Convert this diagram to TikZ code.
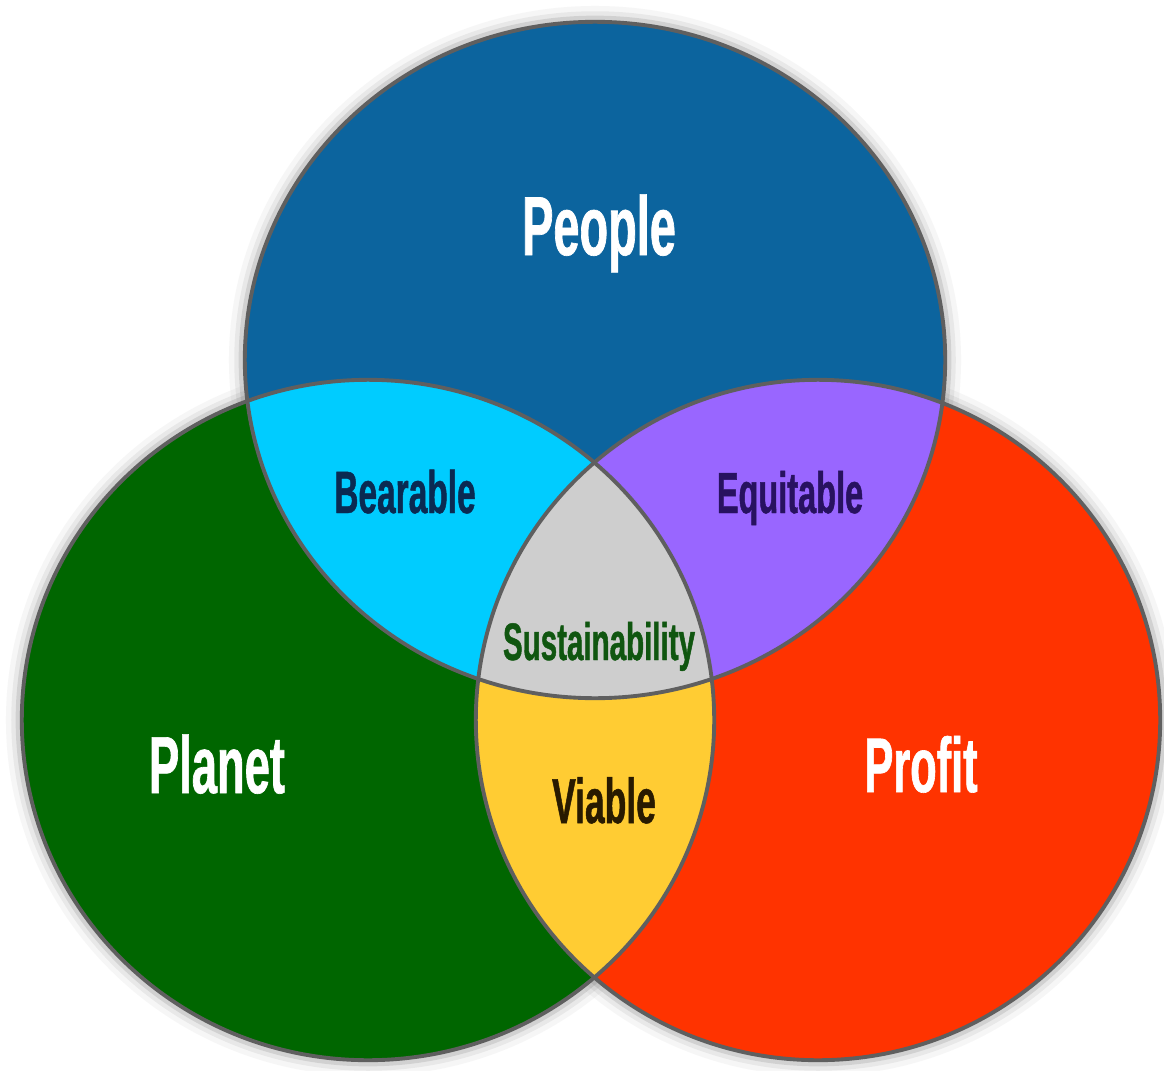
\documentclass[tikz,border=0pt]{standalone}
\usepackage{fontspec}
\newfontfamily\labelfont[FakeStretch=0.56,BoldFeatures={FakeBold=0.8}]{Liberation Sans}
\definecolor{peopleblue}{RGB}{12,100,158}
\definecolor{planetgreen}{RGB}{0,102,0}
\definecolor{profitred}{RGB}{255,51,0}
\definecolor{bearcyan}{RGB}{0,204,255}
\definecolor{equipurple}{RGB}{153,102,255}
\definecolor{viableyellow}{RGB}{255,204,51}
\definecolor{sustgray}{RGB}{206,206,206}
\definecolor{rimgray}{RGB}{95,95,95}
\definecolor{bearink}{RGB}{10,42,82}
\definecolor{equiink}{RGB}{40,18,96}
\definecolor{sustink}{RGB}{16,86,16}
\definecolor{viableink}{RGB}{40,26,0}
\tikzset{
  lbl/.style={anchor=base, inner sep=0pt, font=\labelfont\bfseries},
  rim/.style={draw=rimgray, line width=1.1pt},
  topshape/.style={x radius=3.50cm, y radius=3.38cm},
  leftshape/.style={x radius=3.46cm, y radius=3.40cm},
  rightshape/.style={x radius=3.42cm, y radius=3.40cm}
}
\begin{document}
\begin{tikzpicture}[x=0.01cm,y=-0.01cm]
\useasboundingbox (0,0) rectangle (1164,1070);
\fill[white] (0,0) rectangle (1164,1070);
\coordinate (cT) at (595,360);
\coordinate (cL) at (368,720);
\coordinate (cR) at (818,720);
% soft glow around the circles
\foreach \w/\o in {9pt/0.05,6pt/0.09,3.5pt/0.16}{
  \draw[rimgray, line width=\w, opacity=\o] (cT) ellipse [topshape];
  \draw[rimgray, line width=\w, opacity=\o] (cL) ellipse [leftshape];
  \draw[rimgray, line width=\w, opacity=\o] (cR) ellipse [rightshape];
}
% main circles
\fill[peopleblue] (cT) ellipse [topshape];
\fill[planetgreen] (cL) ellipse [leftshape];
\fill[profitred] (cR) ellipse [rightshape];
% pairwise overlaps with the top circle
\begin{scope}
  \clip (cT) ellipse [topshape];
  \fill[bearcyan] (cL) ellipse [leftshape];
  \fill[equipurple] (cR) ellipse [rightshape];
\end{scope}
% bottom overlap and centre
\begin{scope}
  \clip (cL) ellipse [leftshape];
  \fill[viableyellow] (cR) ellipse [rightshape];
  \clip (cT) ellipse [topshape];
  \fill[sustgray] (cR) ellipse [rightshape];
\end{scope}
% outlines
\draw[rim] (cT) ellipse [topshape];
\draw[rim] (cL) ellipse [leftshape];
\draw[rim] (cR) ellipse [rightshape];
% labels
\node[lbl, text=white, font=\labelfont\bfseries\fontsize{23.8}{26}\selectfont] (people) at (599,255) {People};
\node[lbl, text=white, font=\labelfont\bfseries\fontsize{23}{26}\selectfont] (planet) at (217,793) {Planet};
\node[lbl, text=white, font=\labelfont\bfseries\fontsize{22}{26}\selectfont] (profit) at (921,792) {Profit};
\node[lbl, text=bearink, font=\labelfont\bfseries\fontsize{17}{20}\selectfont] (bearable) at (405,513) {Bearable};
\node[lbl, text=equiink, font=\labelfont\bfseries\fontsize{16.5}{20}\selectfont] (equitable) at (790,513) {Equitable};
\node[lbl, text=sustink, font=\labelfont\bfseries\fontsize{15}{18}\selectfont] (sustain) at (599,660) {Sustainability};
\node[lbl, text=viableink, font=\labelfont\bfseries\fontsize{18}{20}\selectfont] (viable) at (604,823) {Viable};
\end{tikzpicture}
\end{document}
